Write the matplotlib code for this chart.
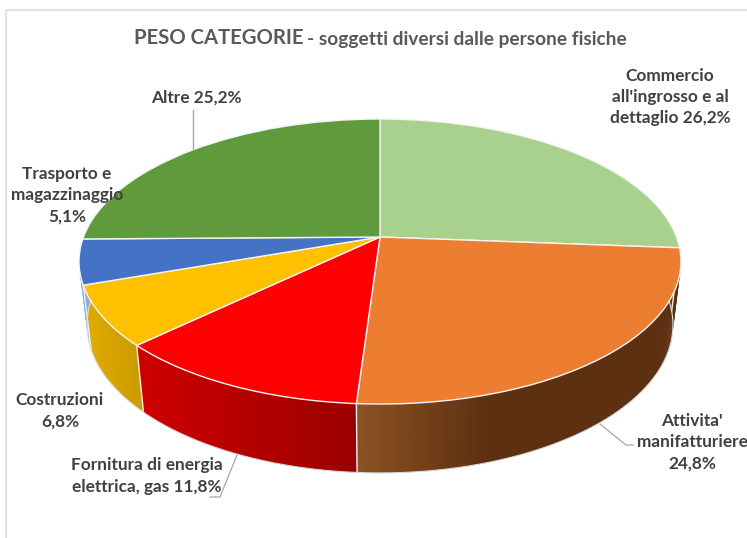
import numpy as np
import matplotlib
matplotlib.use("Agg")
import matplotlib.pyplot as plt
from matplotlib.colors import to_rgb
from matplotlib.patches import Rectangle
from matplotlib.transforms import Transform

categories = ["Commercio", "Attivita", "Fornitura", "Costruzioni", "Trasporto", "Altre"]
values = [26.2, 24.8, 11.8, 6.8, 5.1, 25.2]
colors = ["#A9D18E", "#ED7D31", "#FF0000", "#FFC000", "#4472C4", "#5F9A3D"]
wall_left = ["#A9D18E", "#8C5222", "#CC0000", "#DCA800", "#8FAADC", "#5F9A3D"]
wall_right = ["#A9D18E", "#5E3012", "#9A0000", "#C99A00", "#8FAADC", "#5F9A3D"]
labels = ["Commercio\nall'ingrosso e al\ndettaglio 26,2%",
          "Attivita'\nmanifatturiere\n24,8%",
          "Fornitura di energia\nelettrica, gas 11,8%",
          "Costruzioni\n6,8%",
          "Trasporto e\nmagazzinaggio\n5,1%",
          "Altre 25,2%"]
label_xy = [(670, 97), (692, 442), (147, 476), (60, 411), (67, 195), (196, 98)]

plt.rcParams['font.family'] = ['Lato', 'DejaVu Sans']


class Persp(Transform):
    """Projects the unit disc onto the tilted ellipse of the picture."""
    input_dims = output_dims = 2

    def __init__(self, a, b, k, y0):
        super().__init__()
        self.a, self.b, self.k, self.y0 = a, b, k, y0

    def transform_non_affine(self, xy):
        xy = np.asarray(xy, float)
        w = 1 + self.k * xy[:, 1]
        return np.column_stack([380 + self.a * xy[:, 0] / w,
                                self.y0 - self.b * xy[:, 1] / w])


top_tr = Persp(296.5, 138.3, 0.172, 237.0)
low_tr = Persp(288.7, 143.7, 0.17, 299.8)

fig = plt.figure(figsize=(7.47, 5.38), dpi=100)
ax = fig.add_axes([0, 0, 1, 1])

wedges, _ = ax.pie(values, colors=colors, startangle=90, counterclock=False,
                   radius=1, wedgeprops=dict(edgecolor="#F4F4F4", linewidth=1.0))
ax.set_aspect('auto')
ax.set_xlim(0, 747)
ax.set_ylim(538, 0)
for w in wedges:
    w.set_transform(top_tr + ax.transData)
    w.set_zorder(5)

# chart frame
ax.add_patch(Rectangle((6, 10), 800, 600, fc="none", ec="#E2E2E2", lw=1.5, zorder=0))

# side wall, from the rim of the visible front half
fracs = np.cumsum(values) / np.sum(values)
edges = np.concatenate([[0], fracs]) * 360.0   # clockwise from the top
VIS0, VIS1 = 85.0, 275.0


def uv_of(deg):
    th = np.radians(np.atleast_1d(deg))
    return np.column_stack([np.sin(th), np.cos(th)])


for i in range(len(values)):
    t0, t1 = max(edges[i], VIS0), min(edges[i + 1], VIS1)
    if t1 <= t0:
        continue
    ts = np.linspace(t0, t1, int((t1 - t0) * 2) + 2)
    c0, c1 = np.array(to_rgb(wall_left[i])), np.array(to_rgb(wall_right[i]))
    xl = low_tr.transform(uv_of(t1))[0, 0]
    xr = low_tr.transform(uv_of(t0))[0, 0]
    span = min(xr - xl, 130.0) if i == 1 else max(xr - xl, 1)
    # each strip overlaps the next one, so no seams show
    for j in range(len(ts) - 1):
        end = min(j + 2, len(ts) - 1)
        seg = ts[j:end + 1]
        up = top_tr.transform(uv_of(seg))
        lo = low_tr.transform(uv_of(seg))
        xm = up[:2, 0].mean()
        f = np.clip((xm - xl) / max(span, 1), 0, 1)
        col = c0 + (c1 - c0) * f
        ax.fill(np.r_[up[:, 0], lo[::-1, 0]], np.r_[up[:, 1], lo[::-1, 1]],
                fc=col, ec="none", lw=0, zorder=2)
    # light seam at the slice boundary
    if VIS0 < edges[i + 1] < VIS1:
        p, q = top_tr.transform(uv_of(edges[i + 1]))[0], low_tr.transform(uv_of(edges[i + 1]))[0]
        ax.plot([p[0], q[0]], [p[1], q[1]], color="#EFEFEF", lw=1.0, zorder=3)

# thin light outline of the lower rim
rim = low_tr.transform(uv_of(np.linspace(VIS0, VIS1, 200)))
ax.plot(rim[:, 0], rim[:, 1], color="#DDDDDD", lw=0.8, zorder=3)

# leader lines
leader_col = "#A6A6A6"
ax.plot([192.5, 192.5], [110, 149], color=leader_col, lw=1.0, zorder=6)
ax.plot([237, 220, 210], [455, 497, 497], color=leader_col, lw=0.9, zorder=1)
ax.plot([600, 626, 633], [424, 445, 445], color=leader_col, lw=0.9, zorder=1)

# texts
for s, (x, y) in zip(labels, label_xy):
    ax.text(x, y, s, ha="center", va="center", fontsize=12.4, fontweight="bold",
            color="#404040", linespacing=1.42, zorder=8)

ax.text(134, 38, "PESO CATEGORIE", ha="left", va="center", fontsize=14.6,
        fontweight="bold", color="#595959", zorder=8)
ax.text(307, 39, "- soggetti diversi dalle persone fisiche", ha="left", va="center",
        fontsize=13.8, fontweight="bold", color="#595959", zorder=8)

fig.savefig("out.png", dpi=100, facecolor="white")
